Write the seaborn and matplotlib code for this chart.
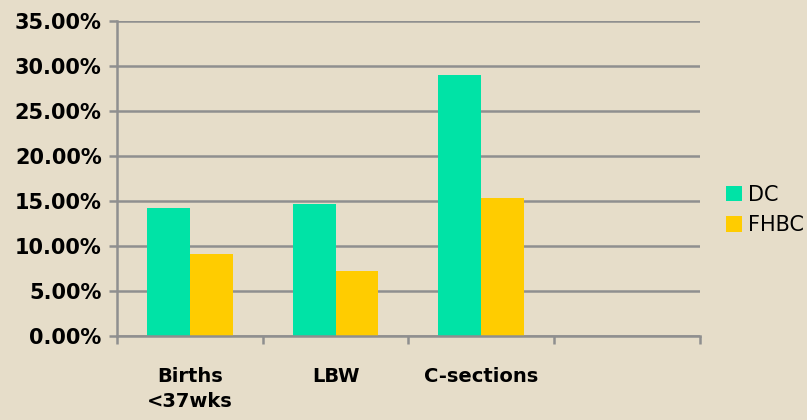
import pandas as pd
import numpy as np
import matplotlib
matplotlib.use("Agg")
import matplotlib.pyplot as plt
import seaborn as sns
from matplotlib.ticker import FuncFormatter, FixedLocator

# values (percent)
categories = ["Births\n<37wks", "LBW", "C-sections", ""]
dc_values = [14.2, 14.7, 29.0, np.nan]
fhbc_values = [9.1, 7.2, 15.3, np.nan]
series = ["DC", "FHBC"]

bg = "#E6DDC9"
grid_col = "#8F8F8F"
palette = {"DC": "#00E3A6", "FHBC": "#FFCC00"}

df = pd.DataFrame({
    "category": categories * 2,
    "value": dc_values + fhbc_values,
    "series": ["DC"] * len(categories) + ["FHBC"] * len(categories),
})

sns.set_style("white")
plt.rcParams["font.family"] = ["DejaVu Sans"]
plt.rcParams["text.color"] = "black"

fig = plt.figure(figsize=(8.07, 4.2), dpi=100, facecolor=bg)
ax = fig.add_axes([0.145, 0.2, 0.722, 0.75])
ax.set_facecolor(bg)

sns.barplot(data=df, x="category", y="value", hue="series", order=categories,
            hue_order=series, palette=palette, width=0.59, saturation=1,
            linewidth=0, ax=ax, legend=True)

ax.set_ylim(0, 35)
ax.set_xlim(-0.5, len(categories) - 0.5)
ax.set_yticks(np.arange(0, 36, 5))
ax.yaxis.set_major_formatter(FuncFormatter(lambda v, p: f"{v:.2f}%"))
ax.yaxis.grid(True, color=grid_col, linewidth=1.8)
ax.set_axisbelow(True)

# category boundaries get the tick marks, labels sit at the centres
ax.xaxis.set_minor_locator(FixedLocator(np.arange(-0.5, len(categories), 1)))
ax.tick_params(axis="x", which="major", bottom=True, length=0, pad=22, labelcolor="black")
ax.tick_params(axis="x", which="minor", bottom=True, length=6, width=1.8,
               color=grid_col, direction="out")
ax.tick_params(axis="y", left=True, length=6, width=1.8, color=grid_col,
               direction="out", pad=5, labelcolor="black")
for lab in ax.get_xticklabels():
    lab.set_fontsize(14)
    lab.set_fontweight("bold")
    lab.set_linespacing(1.4)
for lab in ax.get_yticklabels():
    lab.set_fontsize(15)
    lab.set_fontweight("bold")

for s in ["top", "right"]:
    ax.spines[s].set_visible(False)
for s in ["left", "bottom"]:
    ax.spines[s].set_color(grid_col)
    ax.spines[s].set_linewidth(1.8)

ax.set_xlabel("")
ax.set_ylabel("")

leg = ax.legend(loc="center left", bbox_to_anchor=(1.045, 0.4), frameon=False,
                fontsize=15, handlelength=0.75, handleheight=0.75,
                handletextpad=0.3, labelspacing=0.5, borderaxespad=0,
                borderpad=0)
for t in leg.get_texts():
    t.set_color("black")

fig.savefig("out.png", dpi=100, facecolor=bg)
